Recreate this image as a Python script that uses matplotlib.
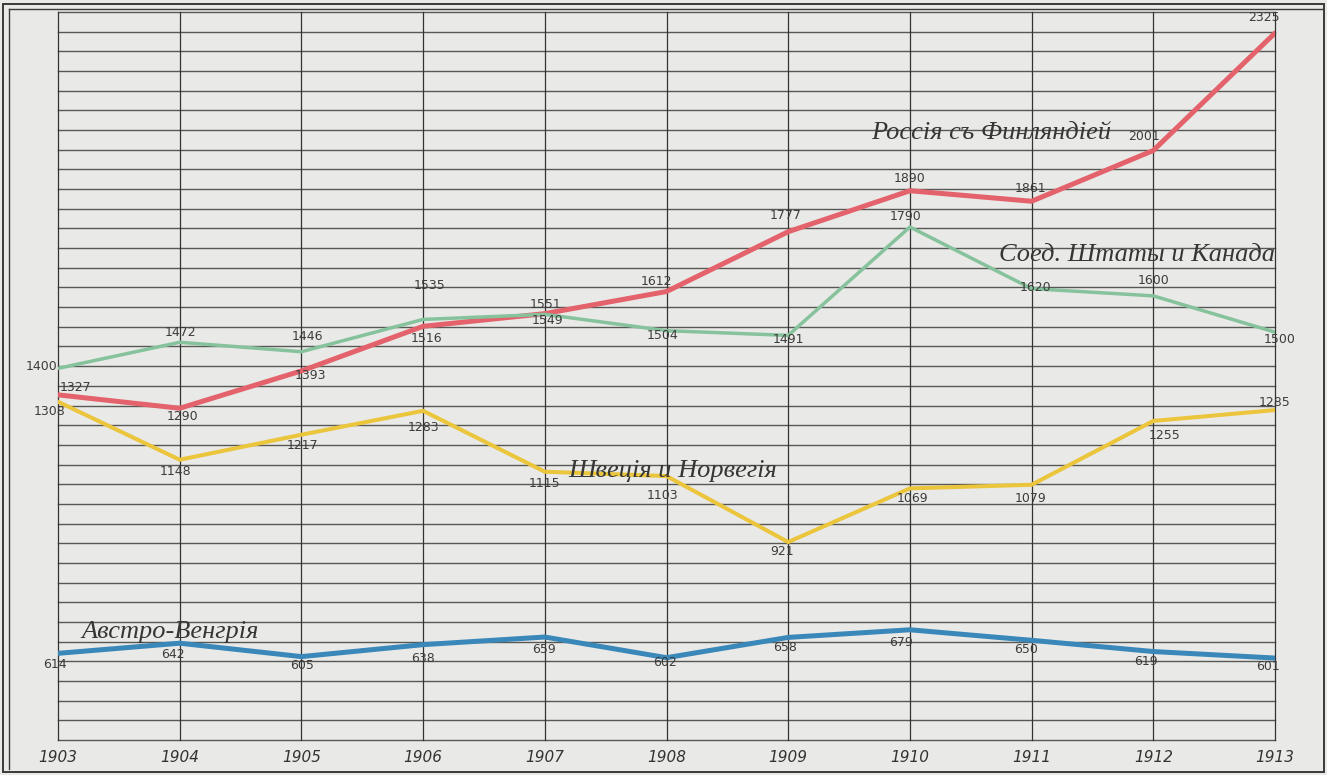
import numpy as np
import matplotlib
matplotlib.use('Agg')
import matplotlib.pyplot as plt
from matplotlib.lines import Line2D
from matplotlib.patches import Rectangle

# Data
years = [1903, 1904, 1905, 1906, 1907, 1908, 1909, 1910, 1911, 1912, 1913]
year_labels = [str(y) for y in years]

russia = [1327, 1290, 1393, 1516, 1551, 1612, 1777, 1890, 1861, 2001, 2325]
usa_canada = [1400, 1472, 1446, 1535, 1549, 1504, 1491, 1790, 1620, 1600, 1500]
sweden_norway = [1308, 1148, 1217, 1283, 1115, 1103, 921, 1069, 1079, 1255, 1285]
austria = [614, 642, 605, 638, 659, 602, 658, 679, 650, 619, 601]

series_names = ['Россія съ Финляндіей', 'Соед. Штаты и Канада',
                'Швеція и Норвегія', 'Австро-Венгрія']

# Styling
paper = '#e9e9e7'
ink = '#3a3a3a'
colors = ['#e4626b', '#86c29c', '#ebc53c', '#3a87b9']
widths = [3.6, 2.5, 2.9, 3.6]

# label offsets in pixels (dx right, dy down) relative to each point
offsets = [
    [(17, -7), (3, 8), (9, 5), (3, 12), (1, -9), (-10, -10), (-3, -16),
     (0, -12), (-1, -13), (-9, -14), (-11, -16)],
    [(-16, -2), (1, -10), (6, -15), (6, -34), (3, 6), (-4, 5), (0, 4),
     (-4, -10), (4, -1), (0, -15), (5, 7)],
    [(-8, 10), (-4, 12), (1, 11), (0, 17), (0, 12), (-4, 19), (-6, 9),
     (3, 10), (-1, 14), (11, 15), (0, -8)],
    [(-3, 11), (-7, 11), (1, 9), (0, 14), (-1, 12), (-1, 5), (-3, 10),
     (-9, 13), (-6, 9), (-7, 10), (-7, 8)],
]

# where the series names sit (year, value)
name_pos = [(1910.67, 2049), (1911.87, 1713), (1908.05, 1117), (1903.92, 672)]

W, H = 1327, 775
fig = plt.figure(figsize=(W / 100, H / 100), dpi=100, facecolor=paper)
ax = fig.add_axes([58 / W, 35 / H, (1275 - 58) / W, (740 - 12) / H])
ax.set_facecolor(paper)

ylo, yhi = 375, 2383
ax.set_xlim(years[0], years[-1])
ax.set_ylim(ylo, yhi)

# ruled paper: horizontal lines every interval, vertical line at each year
for v in np.linspace(ylo, yhi, 38):
    ax.axhline(v, color='#575753', lw=1.0, zorder=1, clip_on=False)
for yr in years:
    ax.axvline(yr, color='#333333', lw=0.9, zorder=1, clip_on=False)

for spine in ax.spines.values():
    spine.set_visible(False)

ax.set_yticks([])
ax.set_xticks(years)
ax.set_xticklabels(year_labels, fontsize=11, style='italic', color='#333333')
ax.tick_params(axis='x', length=0, pad=7)

all_series = [russia, usa_canada, sweden_norway, austria]
for vals, col, lw, offs in zip(all_series, colors, widths, offsets):
    ax.plot(years, vals, color=col, lw=lw, solid_joinstyle='round',
            solid_capstyle='round', zorder=3)
    for yr, v, (dx, dy) in zip(years, vals, offs):
        ax.annotate(str(v), (yr, v), xytext=(dx * 0.72, -dy * 0.72),
                    textcoords='offset points', ha='center', va='center',
                    fontsize=9, color='#3c3c3c', zorder=4,
                    annotation_clip=False)

# series names in a slanted serif, standing in for the hand lettering
for name, (xn, yn) in zip(series_names, name_pos):
    ax.text(xn, yn, name, ha='center', va='center', fontsize=19,
            family='Liberation Serif', style='italic', color='#363636',
            zorder=5)

# double frame round the sheet
fig.add_artist(Rectangle((3 / W, 3 / H), (1324 - 3) / W, (771 - 3) / H,
                         transform=fig.transFigure, fill=False,
                         edgecolor=ink, lw=1.4))
fig.add_artist(Line2D([9 / W, 9 / W], [6 / H, (H - 9) / H],
                      transform=fig.transFigure, color=ink, lw=1.0))
fig.add_artist(Line2D([9 / W, 1322 / W], [(H - 9) / H, (H - 9) / H],
                      transform=fig.transFigure, color=ink, lw=1.0))

fig.savefig('out.png', dpi=100, facecolor=paper)
